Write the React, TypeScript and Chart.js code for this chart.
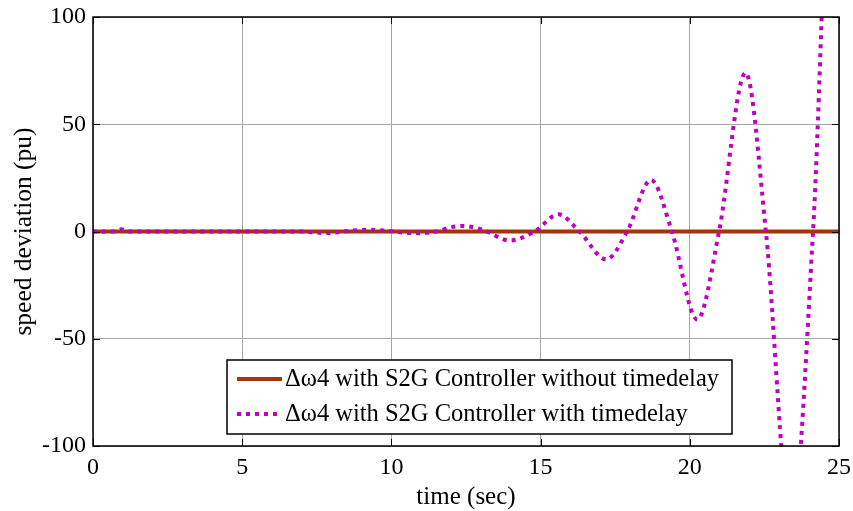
import { useEffect, useRef } from "react";
import { Chart, registerables } from "chart.js";

Chart.register(...registerables);

const SERIF = "'Liberation Serif', 'Times New Roman', serif";

// Series without time delay (flat response)
const timeNoDelay = [0, 25];
const speedNoDelay = [0, 0];

// Series with time delay (growing oscillation)
const timeDelay = [
  0, 0.7, 0.95, 1.2, 2, 3, 4, 5, 6, 7, 7.4, 7.8, 8.2, 8.6, 9.2, 9.8, 10.1, 10.5,
  10.9, 11.5, 12.0, 12.4, 12.8, 13.2, 13.95, 14.8, 15.6, 16.3, 17.2, 17.9, 18.7,
  19.4, 20.25, 20.98, 21.87, 22.55, 23.4, 24.13, 24.9, 25,
];
const speedDelay = [
  0, 0, 1.0, 0, 0, 0, 0, 0, 0, 0, -0.4, -0.7, -0.4, 0.3, 0.8, 0.4, 0, -0.6,
  -0.8, 0, 2.0, 2.6, 1.8, 0, -4.2, 0, 8, 0, -13, 0, 24,
  0, -41, 0, 74, 0, -136, 0, 230, 225,
];

const xTicks = [0, 5, 10, 15, 20, 25];
const yTicks = [-100, -50, 0, 50, 100];

const seriesLabels = [
  "Δω4 with S2G Controller without timedelay",
  "Δω4 with S2G Controller with timedelay",
];
const seriesColors = ["#A0360A", "#C000C0"];

const xTitle = "time (sec)";
const yTitle = "speed deviation (pu)";

const TICK_LEN = 7;

// Black frame around the plot with inward ticks on all four sides
const framePlugin = {
  id: "frame",
  afterDatasetsDraw(chart: any) {
    const { ctx, chartArea: a, scales } = chart;
    ctx.save();
    ctx.strokeStyle = "#000";
    ctx.lineWidth = 1;
    ctx.beginPath();
    for (const v of xTicks) {
      const x = Math.round(scales.x.getPixelForValue(v)) + 0.5;
      ctx.moveTo(x, a.bottom);
      ctx.lineTo(x, a.bottom - TICK_LEN);
      ctx.moveTo(x, a.top);
      ctx.lineTo(x, a.top + TICK_LEN);
    }
    for (const v of yTicks) {
      const y = Math.round(scales.y.getPixelForValue(v)) + 0.5;
      ctx.moveTo(a.left, y);
      ctx.lineTo(a.left + TICK_LEN, y);
      ctx.moveTo(a.right, y);
      ctx.lineTo(a.right - TICK_LEN, y);
    }
    ctx.stroke();
    ctx.lineWidth = 1.5;
    ctx.strokeRect(a.left, a.top, a.right - a.left, a.bottom - a.top);
    ctx.restore();
  },
};

// Boxed legend inside the lower part of the plot
const legendPlugin = {
  id: "boxLegend",
  afterDraw(chart: any) {
    const { ctx } = chart;
    const box = { x: 227, y: 360, w: 505, h: 74 };
    ctx.save();
    ctx.fillStyle = "#fff";
    ctx.fillRect(box.x, box.y, box.w, box.h);
    ctx.strokeStyle = "#000";
    ctx.lineWidth = 1.5;
    ctx.strokeRect(box.x, box.y, box.w, box.h);

    const rows = [box.y + 19, box.y + 54];
    chart.data.datasets.forEach((ds: any, i: number) => {
      const y = rows[i];
      ctx.beginPath();
      ctx.strokeStyle = ds.borderColor;
      ctx.lineWidth = ds.borderWidth;
      ctx.lineCap = "butt";
      ctx.setLineDash(ds.borderDash || []);
      ctx.moveTo(box.x + 10, y);
      ctx.lineTo(box.x + 55, y);
      ctx.stroke();
      ctx.setLineDash([]);
      ctx.fillStyle = "#000";
      ctx.font = `24.5px ${SERIF}`;
      ctx.textBaseline = "middle";
      ctx.textAlign = "left";
      ctx.fillText(ds.label, box.x + 58, y + 1);
    });
    ctx.restore();
  },
};

export default function App() {
  const canvasRef = useRef<HTMLCanvasElement | null>(null);

  useEffect(() => {
    const canvas = canvasRef.current;
    if (!canvas) return;

    const chart = new Chart(canvas, {
      type: "line",
      data: {
        datasets: [
          {
            label: seriesLabels[0],
            data: timeNoDelay.map((t, i) => ({ x: t, y: speedNoDelay[i] })),
            borderColor: seriesColors[0],
            borderWidth: 4,
            pointRadius: 0,
            order: 2,
          },
          {
            label: seriesLabels[1],
            data: timeDelay.map((t, i) => ({ x: t, y: speedDelay[i] })),
            borderColor: seriesColors[1],
            borderWidth: 4,
            borderDash: [4, 5],
            borderCapStyle: "butt",
            pointRadius: 0,
            cubicInterpolationMode: "monotone",
            order: 1,
          },
        ],
      },
      options: {
        responsive: false,
        animation: false,
        layout: { padding: { top: 17, right: 14, left: 0, bottom: 0 } },
        plugins: {
          legend: { display: false },
          tooltip: { enabled: false },
        },
        scales: {
          x: {
            type: "linear",
            min: 0,
            max: 25,
            afterBuildTicks: (s: any) => {
              s.ticks = xTicks.map((v) => ({ value: v }));
            },
            afterFit: (s: any) => {
              s.height = 65;
              s.paddingLeft = 0;
              s.paddingRight = 0;
            },
            border: { display: false },
            grid: { color: "#a6a6a6", lineWidth: 1, drawTicks: false },
            ticks: {
              color: "#000",
              padding: 7,
              maxRotation: 0,
              font: { family: SERIF, size: 24 },
            },
            title: {
              display: true,
              text: xTitle,
              color: "#000",
              font: { family: SERIF, size: 25, lineHeight: 1.1 },
              padding: { top: 0, bottom: 0 },
            },
          },
          y: {
            type: "linear",
            min: -100,
            max: 100,
            afterBuildTicks: (s: any) => {
              s.ticks = yTicks.map((v) => ({ value: v }));
            },
            afterFit: (s: any) => {
              s.width = 93;
              s.paddingTop = 0;
              s.paddingBottom = 0;
            },
            border: { display: false },
            grid: { color: "#a6a6a6", lineWidth: 1, drawTicks: false },
            ticks: {
              color: "#000",
              padding: 7,
              font: { family: SERIF, size: 24 },
            },
            title: {
              display: true,
              text: yTitle,
              color: "#000",
              font: { family: SERIF, size: 25.5, lineHeight: 1.9 },
              padding: { top: 0, bottom: 0 },
            },
          },
        },
      },
      plugins: [framePlugin, legendPlugin],
    } as any);

    return () => chart.destroy();
  }, []);

  return (
    <div style={{ position: "fixed", left: 0, top: 0, width: 853, height: 511, background: "#fff" }}>
      <canvas ref={canvasRef} width={853} height={511} style={{ display: "block" }} />
    </div>
  );
}
